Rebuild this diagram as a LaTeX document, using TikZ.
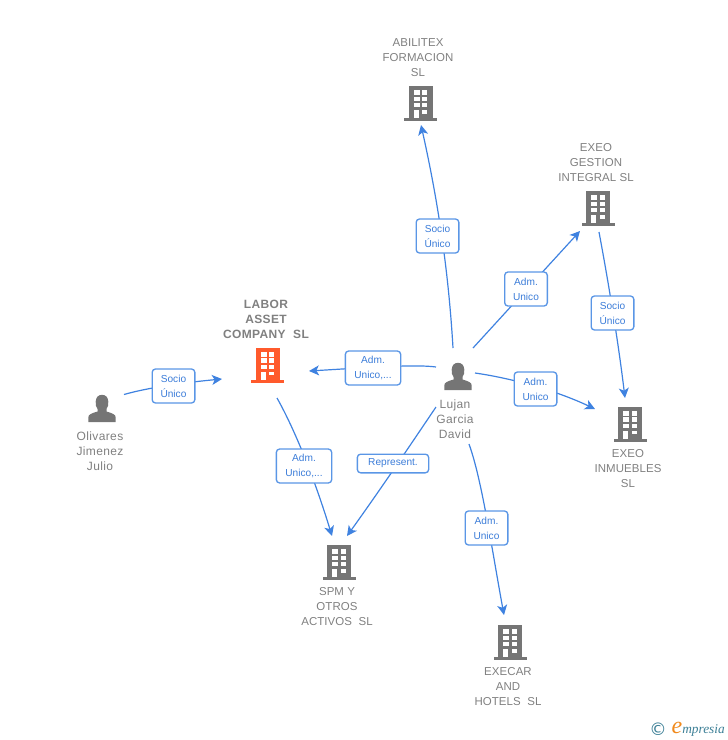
\documentclass[tikz,border=0pt]{standalone}
\usepackage{fontspec}
\setmainfont{Liberation Sans}
\newfontfamily\lab[LetterSpace=3]{Liberation Sans}
\newfontfamily\labup[LetterSpace=0.7]{Liberation Sans}
\newfontfamily\logofont{Liberation Serif}
\newfontfamily\symfont{DejaVu Sans}
\usetikzlibrary{arrows.meta,backgrounds}
\definecolor{conn}{HTML}{3F82E0}
\definecolor{boxline}{HTML}{5A96E6}
\definecolor{boxtxt}{HTML}{3C7DD9}
\definecolor{icongrey}{HTML}{757575}
\definecolor{labgrey}{HTML}{808080}
\definecolor{redicon}{HTML}{FF5A2C}
\definecolor{logoblue}{HTML}{3C7F96}
\definecolor{logoor}{HTML}{F08A1D}
\tikzset{
  px/.style={x=0.75pt,y=-0.75pt},
  edgeline/.style={draw=conn,line width=0.9pt,-{Stealth[length=7.5pt,width=7.5pt,inset=2pt]}},
  relbox/.style={draw=boxline,line width=1pt,rounded corners=2.5pt,fill=white,text=boxtxt,inner sep=0pt,
    font=\fontsize{7.6}{11.2}\selectfont,align=center,minimum height=25.5pt},
  namelab/.style={text=labgrey,font=\labup\fontsize{8.6}{11.2}\selectfont,align=center,inner sep=0pt},
  personlab/.style={text=labgrey,font=\lab\fontsize{9}{11.2}\selectfont,align=center,inner sep=0pt},
  boldlab/.style={text=labgrey,font=\lab\bfseries\fontsize{9}{11.2}\selectfont,align=center,inner sep=0pt},
  iconnode/.style={inner sep=0pt,minimum width=24pt,minimum height=26pt},
}
\newcommand{\bldg}[3]{% x, y (centre), colour
  \begin{scope}[shift={(#1,#2)}]
    \fill[#3] (-12,-17.5) rectangle (12,15);
    \fill[#3] (-16.5,14.5) rectangle (16.5,17.5);
    \foreach \wy/\wh in {-13.5/5,-6.8/4.3,-0.2/4}{
      \fill[white] (-6.7,\wy) rectangle (-1,\wy+\wh);
      \fill[white] (1.7,\wy) rectangle (6.7,\wy+\wh);
    }
    \fill[white] (-6.7,6.5) rectangle (-1.7,14.5);
    \fill[white] (1.7,6.5) rectangle (6.7,10);
  \end{scope}}
\newcommand{\persona}[2]{% x, y (centre)
  \begin{scope}[shift={(#1,#2)}]
    \fill[icongrey] (-13.7,13.5) -- (-13.7,9) .. controls (-13.7,6) and (-11,5) .. (-4.5,3)
      -- (-4.5,0.5) .. controls (-6,-1) and (-6.5,-4) .. (-6.3,-7)
      .. controls (-6,-11.5) and (-3.5,-13.7) .. (0,-13.7)
      .. controls (3.5,-13.7) and (6,-11.5) .. (6.3,-7)
      .. controls (6.5,-4) and (6,-1) .. (4.5,0.5) -- (4.5,3)
      .. controls (11,5) and (13.7,6) .. (13.7,9) -- (13.7,13.5) -- cycle;
  \end{scope}}
\begin{document}
\begin{tikzpicture}[px]
\useasboundingbox (0,0) rectangle (728,740);
% icons
\bldg{420.5}{103.5}{icongrey}
\bldg{598}{208.5}{icongrey}
\bldg{267.5}{365}{redicon}
\bldg{630}{424}{icongrey}
\bldg{339}{562.5}{icongrey}
\bldg{510}{642.5}{icongrey}
\persona{102}{408.5}
\persona{458}{376.5}
% anchor nodes for the icons
\node[iconnode] (abilitex) at (420,103) {};
\node[iconnode] (gestion) at (598,208) {};
\node[iconnode] (labor) at (268,365) {};
\node[iconnode] (inmuebles) at (630,424) {};
\node[iconnode] (spm) at (339,562) {};
\node[iconnode] (execar) at (510,642) {};
\node[iconnode] (olivares) at (102,408) {};
\node[iconnode] (lujan) at (458,376) {};
% names
\node[namelab] (tabilitex) at (418,57.6) {ABILITEX\\FORMACION\\SL};
\node[namelab] (tgestion) at (596,162.6) {EXEO\\GESTION\\INTEGRAL SL};
\node[boldlab] (tlabor) at (266,319) {LABOR\\ASSET\\COMPANY\ \ SL};
\node[namelab] (tinmuebles) at (628,468.6) {EXEO\\INMUEBLES\\SL};
\node[namelab] (tspm) at (337,606.6) {SPM Y\\OTROS\\ACTIVOS\ \ SL};
\node[namelab] (texecar) at (508,686.6) {EXECAR\\AND\\HOTELS\ \ SL};
\node[personlab] (tolivares) at (100,451) {Olivares\\Jimenez\\Julio};
\node[personlab] (tlujan) at (455,419) {Lujan\\Garcia\\David};
% relation boxes
\node[relbox,minimum width=32pt] (b1) at (173.5,386) {Socio\\Único};
\node[relbox,minimum width=41.5pt] (b2) at (373,368) {Adm.\\Unico,...};
\node[relbox,minimum width=41.5pt] (b3) at (304,466) {Adm.\\Unico,...};
\node[relbox,minimum width=53.5pt,minimum height=14pt] (b4) at (393,463.5) {Represent.};
\node[relbox,minimum width=32pt] (b5) at (437.5,236) {Socio\\Único};
\node[relbox,minimum width=32pt] (b6) at (526,289) {Adm.\\Unico};
\node[relbox,minimum width=32pt] (b7) at (612.5,313) {Socio\\Único};
\node[relbox,minimum width=32pt] (b8) at (535.5,389) {Adm.\\Unico};
\node[relbox,minimum width=32pt] (b9) at (486.5,528) {Adm.\\Unico};
% free ends of the connectors
\coordinate (e1a) at (124,394.5); \coordinate (e1b) at (222,379);
\coordinate (e2a) at (436,367); \coordinate (e2b) at (309,371);
\coordinate (e3a) at (277,398); \coordinate (e3b) at (332,536);
\coordinate (e4a) at (436,407); \coordinate (e4b) at (347,536);
\coordinate (e5a) at (453,348); \coordinate (e5b) at (421,125);
\coordinate (e6a) at (473,348); \coordinate (e6b) at (580,231);
\coordinate (e7a) at (599,232); \coordinate (e7b) at (625,398);
\coordinate (e8a) at (475,373); \coordinate (e8b) at (595,409);
\coordinate (e9a) at (469,444); \coordinate (e9b) at (504,615);
\begin{scope}[on background layer]
\draw[edgeline] (e1a) .. controls (150,387) and (190,382) .. (e1b);
\draw[edgeline] (e2a) .. controls (415,364) and (360,368) .. (e2b);
\draw[edgeline] (e3a) .. controls (295,430) and (315,480) .. (e3b);
\draw[edgeline] (e4a) .. controls (415,438) and (385,483) .. (e4b);
\draw[edgeline] (e5a) .. controls (449,280) and (440,210) .. (e5b);
\draw[edgeline] (e6a) -- (e6b);
\draw[edgeline] (e7a) .. controls (608,280) and (618,340) .. (e7b);
\draw[edgeline] (e8a) .. controls (510,378) and (555,390) .. (e8b);
\draw[edgeline] (e9a) .. controls (482,480) and (492,550) .. (e9b);
\end{scope}
% logo
\node[inner sep=0pt,text=logoblue,font=\symfont\fontsize{13}{13}\selectfont] (copyr) at (658,729) {©};
\node[inner sep=0pt,anchor=base,text=logoor,font=\logofont\itshape\fontsize{18}{18}\selectfont] (logoe) at (677,733.5) {e};
\node[inner sep=0pt,anchor=base west,text=logoblue,font=\logofont\itshape\fontsize{10}{12}\selectfont] (logot) at (682,733.5) {mpresia};
\end{tikzpicture}
\end{document}
